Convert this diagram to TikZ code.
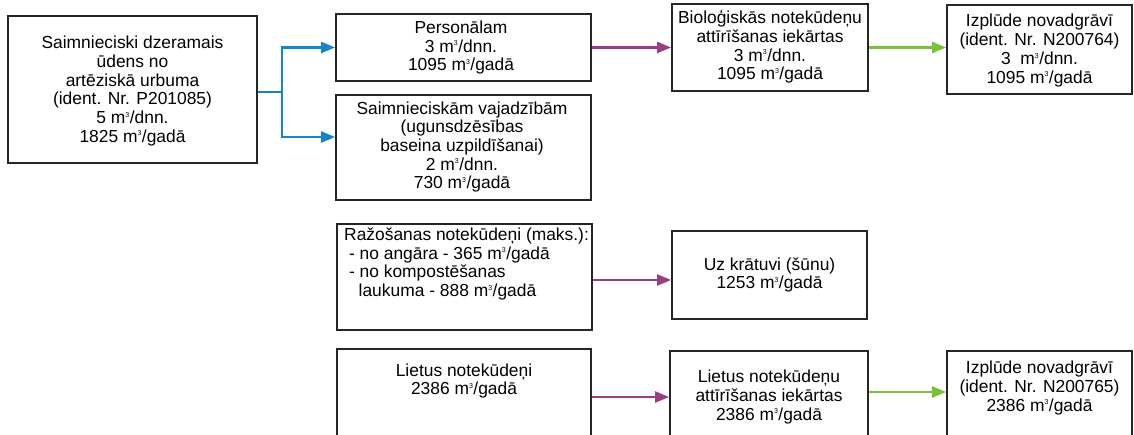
\documentclass[tikz,border=0pt]{standalone}
\usepackage{fontspec}
\setmainfont{Liberation Sans}
\usetikzlibrary{arrows.meta}
\definecolor{flowblue}{RGB}{24,132,200}
\definecolor{flowpurple}{RGB}{156,62,132}
\definecolor{flowgreen}{RGB}{122,192,56}
\newcommand\cubm{m\textsuperscript{\fontsize{7}{7}\selectfont 3}}
\tikzset{
  box/.style={draw=black!85, line width=1.8pt, inner sep=0pt},
  txt/.style={font=\fontsize{17.4}{18.7}\selectfont, align=center, inner sep=0pt},
  ltxt/.style={font=\fontsize{17.4}{18.7}\selectfont, align=left, inner sep=0pt, anchor=west},
  flow/.style={line width=2.3pt, -{Triangle[length=14pt,width=11pt]}},
}
\begin{document}
\begin{tikzpicture}[x=1pt,y=-1pt]
\useasboundingbox (0,0) rectangle (1134,434);
\fill[white] (0,0) rectangle (1134,434);
\clip (0,0) rectangle (1134,434);

% boxes
\node[box, minimum width=249pt, minimum height=147pt] (src) at (132.5,89.5) {};
\node[txt] at (132.5,91) {Saimnieciski dzeramais\\ūdens no\\artēziskā urbuma\\(ident. Nr. P201085)\\5 \cubm/dnn.\\1825 \cubm/gadā};

\node[box, minimum width=255pt, minimum height=67pt] (pers) at (463.5,47.5) {};
\node[txt] at (461,47.5) {Personālam\\3 \cubm/dnn.\\1095 \cubm/gadā};

\node[box, minimum width=255pt, minimum height=105pt] (saim) at (463.5,147.5) {};
\node[txt] at (462,147) {Saimnieciskām vajadzībām\\(ugunsdzēsības\\baseina uzpildīšanai)\\2 \cubm/dnn.\\730 \cubm/gadā};

\node[box, minimum width=196pt, minimum height=87pt] (bio) at (770,47.5) {};
\node[txt] at (770,47) {Bioloģiskās notekūdeņu\\attīrīšanas iekārtas\\3 \cubm/dnn.\\1095 \cubm/gadā};

\node[box, minimum width=185pt, minimum height=89pt] (izpa) at (1039.5,49.5) {};
\node[txt] at (1039.5,50.5) {Izplūde novadgrāvī\\(ident. Nr. N200764)\\3\ \ \cubm/dnn.\\1095 \cubm/gadā};

\node[box, minimum width=255pt, minimum height=106pt] (raz) at (464.5,277) {};
\node[ltxt] at (344,264) {Ražošanas notekūdeņi (maks.):\\\ - no angāra - 365 \cubm/gadā\\\ - no kompostēšanas\\\ \ \ laukuma - 888 \cubm/gadā};

\node[box, minimum width=195pt, minimum height=88pt] (uzk) at (769.5,275) {};
\node[txt] at (769.5,275) {Uz krātuvi (šūnu)\\1253 \cubm/gadā};

\node[box, minimum width=254pt, minimum height=111pt] (liet) at (464,404.5) {};
\node[txt] at (464,381) {Lietus notekūdeņi\\2386 \cubm/gadā};

\node[box, minimum width=198pt, minimum height=109pt] (lnk) at (769,405.5) {};
\node[txt] at (769,397) {Lietus notekūdeņu\\attīrīšanas iekārtas\\2386 \cubm/gadā};

\node[box, minimum width=185pt, minimum height=109pt] (izpb) at (1039.5,405.5) {};
\node[txt] at (1039.5,388) {Izplūde novadgrāvī\\(ident. Nr. N200765)\\2386 \cubm/gadā};

% connectors
\coordinate (j) at (282,92);
\coordinate (j2) at (282,137);
\coordinate (rr) at (0,280);
\coordinate (lr) at (0,397);
\coordinate (gr) at (0,392);
\draw[line width=2.3pt, draw=flowblue] (src.east |- j) -- (j);
\draw[flow, draw=flowblue] (j) |- (pers.west);
\draw[flow, draw=flowblue] (j) -- (j2) -- (saim.west |- j2);
\draw[flow, draw=flowpurple] (pers.east) -- (bio.west);
\draw[flow, draw=flowgreen] (bio.east) -- (izpa.west |- bio.east);
\draw[flow, draw=flowpurple] (raz.east |- rr) -- (uzk.west |- rr);
\draw[flow, draw=flowpurple] (liet.east |- lr) -- (lnk.west |- lr);
\draw[flow, draw=flowgreen] (lnk.east |- gr) -- (izpb.west |- gr);
\end{tikzpicture}
\end{document}
